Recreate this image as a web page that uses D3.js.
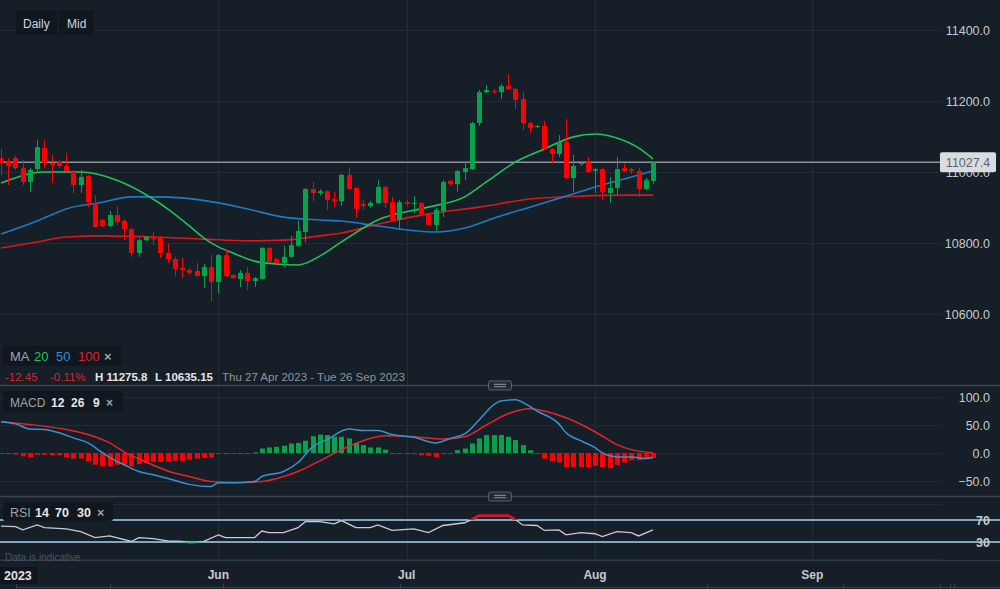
<!DOCTYPE html>
<html>
<head>
<meta charset="utf-8">
<script src="https://cdnjs.cloudflare.com/ajax/libs/d3/7.8.5/d3.min.js"></script>
<style>
html, body { margin: 0; padding: 0; background: #161e27; overflow: hidden; }
svg { display: block; font-family: "Liberation Sans", Arial, sans-serif; }
</style>
</head>
<body>
<svg id="chart" width="1000" height="589"></svg>
<script>
// daily candles, index 0 = first visible session (late Apr 2023)
var opens = [11039,11028,11039,11011,10972,11008,11068,11025,11031,11017,
  11000,10963,10989,10913,10865,10848,10879,10862,10839,10772,
  10808,10817,10817,10772,10755,10730,10724,10721,10707,10732,
  10690,10766,10710,10699,10716,10693,10699,10786,10755,10744,
  10761,10792,10831,10952,10941,10946,10924,10918,10992,10955,
  10910,10904,10913,10958,10915,10865,10915,10910,10913,10882,
  10851,10890,10975,10966,11000,11008,11138,11225,11228,11225,
  11242,11234,11206,11138,11127,11130,11065,11051,11084,10983,
  11023,11028,11003,11008,10941,10955,11011,11008,11003,10952,
  10975];
var highs = [11065,11039,11045,11034,11011,11090,11090,11048,11034,11054,
  11006,11006,10992,10935,10868,10890,10904,10868,10842,10814,
  10820,10831,10820,10800,10761,10758,10730,10744,10741,10766,
  10769,10780,10713,10724,10732,10704,10789,10789,10758,10792,
  10820,10862,10955,10972,10952,10949,10944,10994,11014,10958,
  10921,10918,10977,10961,10930,10921,10921,10932,10915,10885,
  10899,10977,10977,11006,11028,11141,11231,11245,11234,11248,
  11275.8,11237,11225,11141,11132,11144,11068,11104,11149,11048,
  11031,11042,11011,11011,10986,11042,11023,11011,11011,10983,
  11031];
var lows = [10992,10963,11006,10963,10944,11000,11011,10969,11011,11000,
  10941,10941,10901,10843,10845,10845,10851,10808,10761,10761,
  10806,10794,10758,10744,10707,10701,10710,10704,10673,10635.15,
  10659,10704,10699,10676,10668,10676,10696,10744,10741,10732,
  10758,10789,10803,10918,10935,10893,10901,10904,10949,10870,
  10893,10899,10910,10899,10862,10837,10904,10885,10876,10848,
  10834,10873,10961,10944,10977,11006,11130,11222,11220,11206,
  11231,11177,11118,11110,11124,11062,11023,11042,10980,10944,
  11017,10997,10941,10921,10913,10935,11000,10994,10930,10949,
  10966];
var closes = [11025,11017,11011,10972,11006,11070,11025,11020,11017,11003,
  10963,10986,10915,10845,10848,10879,10859,10839,10772,10808,
  10817,10811,10772,10755,10727,10724,10716,10707,10732,10690,
  10766,10707,10701,10716,10693,10701,10786,10747,10744,10761,
  10794,10834,10952,10941,10946,10921,10918,10992,10952,10896,
  10904,10913,10958,10913,10865,10915,10910,10913,10879,10851,
  10893,10972,10966,11003,11011,11138,11225,11231,11225,11242,
  11234,11203,11138,11124,11130,11065,11051,11084,10983,11017,
  11025,11000,11008,10944,10955,11008,11003,11003,10952,10977,
  11027.4];

// moving averages (candle index, value)
var ma20Idx = [0,6,11,16,21,23,26,28,30,32,35,38,41,44,47,52,59,64,67,71,75,79,82,85,88,90];
var ma20Val = [10969,11000,11000,10977,10924,10896,10848,10814,10789,10772,10749,10741,10738,10763,10803,10865,10901,10930,10972,11028,11065,11099,11107,11096,11068,11037];
var ma50Idx = [0,5,9,14,18,21,25,30,34,39,44,47,52,60,64,68,73,78,82,87,90];
var ma50Val = [10825,10862,10896,10915,10930,10930,10927,10913,10896,10873,10865,10862,10848,10831,10842,10870,10901,10932,10958,10986,11003];
var ma100Idx = [0,5,9,14,21,28,34,39,44,47,52,59,66,73,80,87,90];
var ma100Val = [10786,10803,10817,10820,10817,10811,10806,10808,10820,10828,10853,10882,10901,10924,10932,10935,10935];

// MACD 12 26 9
var macdIdx = [0,2,4,6,8,10,12,14,15,17,19,21,24,26,29,30,32,35,36,39,41,43,45,48,50,52,54,55,57,60,62,64,66,68,69,71,73,74,77,78,80,82,83,85,87,89,90];
var macdVal = [56,52,43,42,36,27,18,0.5,-8,-21,-33,-39,-49,-56,-60,-53,-53,-51,-42,-33,-17,11,24,43,40,40,33,31,28,18,26,34,59,86,93,95,83,75,52,36,22,9.5,0.5,-7,-7,-10,-8];
var signalIdx = [0,4,9,12,15,17,20,23,26,29,33,36,39,41,44,47,50,53,57,61,64,67,70,73,75,78,82,85,87,90];
var signalVal = [56,51,42,33,18,2,-16,-32,-42,-51,-53,-51,-42,-33,-14,6,22,31,29,25,29,50,70,79,75,63,38,15,6,0.5];
var histVal = [-1,-1,-3,-6,-8,-3,-3,-4,-4,-8,
  -10,-10,-15,-21,-24,-24,-21,-21,-24,-20,
  -18,-16,-16,-15,-14,-14,-12,-10,-9,-8,
  -2,-1,-1,-0.5,0,1,8,10,11,13,
  17,18,22,30,33,32,29,29,26,18,
  14,10,10,6,0,-1,-1,-2,-4,-5,
  -7,-2,0,5,8,17,26,32,32,32,
  29,23,14,5,-1,-10,-15,-17,-25,-25,
  -25,-25,-23,-25,-27,-21,-17,-13,-13,-11,
  -9];

// RSI 14
var rsiIdx = [0,2,3,5,6,9,11,13,15,18,19,21,23,25,26,27,28,30,31,33,35,36,37,39,41,42,44,46,47,49,51,52,54,57,59,61,64,65,66,68,70,71,72,74,75,77,78,80,82,83,85,87,88,90];
var rsiVal = [59,58,52,61,56,54,49,38,41,31,38,36,32,31,29,29.5,31,43,38,38,38,50,47,47,56,67,67,63,69,56,56,61,51,54,47,60,65,71,78,78,78,71,61,60,51,52,43,47,45,40,49,47,41,52];

// axis
var priceTicks = [10600, 10800, 11000, 11200, 11400];
var macdTicks = [-50, 0, 50, 100];
var rsiLevels = [70, 30];
var monthLabels = ["Jun", "Jul", "Aug", "Sep"];
var monthIdx = [30, 56, 82, 112];
var lastPrice = 11027.4;

var W = 1000, H = 589, plotRight = 942, axisRight = 990;
var bg = "#161e27", grid = "#222c37", sepCol = "#3d464f", axisText = "#c6cace";
var up = "#07a34c", down = "#ff0000";

var svg = d3.select("#chart");
svg.append("rect").attr("width", W).attr("height", H).attr("fill", bg);

var x = d3.scaleLinear().domain([0, 90]).range([1, 653]);
var yPrice = d3.scaleLinear().domain([10600, 11400]).range([314, 30]);
var yMacd = d3.scaleLinear().domain([-50, 100]).range([481, 397]);
var yRsi = d3.scaleLinear().domain([30, 70]).range([542, 520]);

// vertical month grid
svg.append("g").selectAll("line").data(monthIdx).enter().append("line")
  .attr("x1", function(d) { return Math.round(x(d)) + 0.5; })
  .attr("x2", function(d) { return Math.round(x(d)) + 0.5; })
  .attr("y1", 0).attr("y2", 560)
  .attr("stroke", grid).attr("stroke-width", 1);

// horizontal grids
function hgrid(vals, scale) {
  svg.append("g").selectAll("line").data(vals).enter().append("line")
    .attr("x1", 0).attr("x2", plotRight)
    .attr("y1", function(d) { return Math.round(scale(d)) + 0.5; })
    .attr("y2", function(d) { return Math.round(scale(d)) + 0.5; })
    .attr("stroke", grid).attr("stroke-width", 1);
}
hgrid(priceTicks, yPrice);
hgrid(macdTicks, yMacd);
hgrid([100, 0], yRsi);

// ---- price panel
svg.append("clipPath").attr("id", "clipPrice")
  .append("rect").attr("x", 0).attr("y", 0).attr("width", plotRight).attr("height", 384);
var gp = svg.append("g").attr("clip-path", "url(#clipPrice)");

// last price line
gp.append("line")
  .attr("x1", 0).attr("x2", plotRight)
  .attr("y1", yPrice(lastPrice)).attr("y2", yPrice(lastPrice))
  .attr("stroke", "#8e949a").attr("stroke-width", 1.5);

function maLine(idx, val, color) {
  var line = d3.line()
    .x(function(d) { return x(d[0]); })
    .y(function(d) { return yPrice(d[1]); })
    .curve(d3.curveMonotoneX);
  gp.append("path").datum(d3.zip(idx, val))
    .attr("d", line).attr("fill", "none")
    .attr("stroke", color).attr("stroke-width", 1.6);
}
maLine(ma100Idx, ma100Val, "#d9161d");
maLine(ma50Idx, ma50Val, "#1b7cc2");
maLine(ma20Idx, ma20Val, "#22c15c");

var candles = d3.range(opens.length).map(function(i) {
  return { i: i, o: opens[i], h: highs[i], l: lows[i], c: closes[i] };
});
var cg = gp.append("g").selectAll("g").data(candles).enter().append("g");
cg.append("line")
  .attr("x1", function(d) { return Math.round(x(d.i)) + 0.5; })
  .attr("x2", function(d) { return Math.round(x(d.i)) + 0.5; })
  .attr("y1", function(d) { return yPrice(d.h); })
  .attr("y2", function(d) { return yPrice(d.l); })
  .attr("stroke", function(d) { return d.c >= d.o ? up : down; })
  .attr("stroke-width", 1);
cg.append("rect")
  .attr("x", function(d) { return Math.round(x(d.i)) - 2; })
  .attr("width", 5)
  .attr("y", function(d) { return yPrice(Math.max(d.o, d.c)); })
  .attr("height", function(d) { return Math.max(1, Math.abs(yPrice(d.o) - yPrice(d.c))); })
  .attr("fill", function(d) { return d.c >= d.o ? up : down; });

// price axis
var pa = svg.append("g").attr("transform", "translate(" + plotRight + ",0)")
  .call(d3.axisRight(yPrice).tickValues(priceTicks).tickSize(0).tickFormat(d3.format(".1f")));
pa.select(".domain").remove();
pa.selectAll("text").attr("x", axisRight - plotRight).attr("text-anchor", "end")
  .attr("fill", axisText).style("font-size", "12.5px");

// last price tag
svg.append("rect").attr("x", 940).attr("y", yPrice(lastPrice) - 10)
  .attr("width", 56).attr("height", 20).attr("rx", 2).attr("fill", "#d9dde1");
svg.append("text").attr("x", 968).attr("y", yPrice(lastPrice) + 4.5)
  .attr("text-anchor", "middle").attr("fill", "#5d636a")
  .style("font-size", "12.5px").text(d3.format(".1f")(lastPrice));

// ---- MACD panel
var gm = svg.append("g");
gm.selectAll("rect").data(histVal).enter().append("rect")
  .attr("x", function(d, i) { return Math.round(x(i)) - 2; })
  .attr("width", 5)
  .attr("y", function(d) { return d >= 0 ? yMacd(d) : yMacd(0); })
  .attr("height", function(d) { return Math.max(1, Math.abs(yMacd(d) - yMacd(0))); })
  .attr("fill", function(d) { return d > 0 ? up : down; });

function macdLine(idx, val, color) {
  var line = d3.line()
    .x(function(d) { return x(d[0]); })
    .y(function(d) { return yMacd(d[1]); })
    .curve(d3.curveMonotoneX);
  gm.append("path").datum(d3.zip(idx, val))
    .attr("d", line).attr("fill", "none")
    .attr("stroke", color).attr("stroke-width", 1.5);
}
macdLine(signalIdx, signalVal, "#e3242b");
macdLine(macdIdx, macdVal, "#3a91cf");

var ma = svg.append("g").attr("transform", "translate(" + plotRight + ",0)")
  .call(d3.axisRight(yMacd).tickValues(macdTicks.slice().reverse()).tickSize(0).tickFormat(d3.format(".1f")));
ma.select(".domain").remove();
ma.selectAll("text").attr("x", axisRight - plotRight).attr("text-anchor", "end")
  .attr("fill", axisText).style("font-size", "12.5px");

// ---- RSI panel
svg.append("g").selectAll("line").data(rsiLevels).enter().append("line")
  .attr("x1", 0).attr("x2", W)
  .attr("y1", function(d) { return yRsi(d); }).attr("y2", function(d) { return yRsi(d); })
  .attr("stroke", "#7ea7c7").attr("stroke-width", 1.8);

var rsiLine = d3.line()
  .x(function(d) { return x(d[0]); })
  .y(function(d) { return yRsi(d[1]); });
var rsiPts = d3.zip(rsiIdx, rsiVal);
svg.append("clipPath").attr("id", "clipHi")
  .append("rect").attr("x", 0).attr("y", 490).attr("width", plotRight).attr("height", yRsi(70) - 490);
svg.append("clipPath").attr("id", "clipLo")
  .append("rect").attr("x", 0).attr("y", yRsi(30) + 0.3).attr("width", plotRight).attr("height", 20);
svg.append("path").datum(rsiPts).attr("d", rsiLine).attr("fill", "none")
  .attr("stroke", "#c9ccd0").attr("stroke-width", 1.3);
svg.append("path").datum(rsiPts).attr("d", rsiLine).attr("fill", "none")
  .attr("clip-path", "url(#clipHi)").attr("stroke", "#e0141c").attr("stroke-width", 2.5);
svg.append("path").datum(rsiPts).attr("d", rsiLine).attr("fill", "none")
  .attr("clip-path", "url(#clipLo)").attr("stroke", up).attr("stroke-width", 1.8);

svg.append("g").selectAll("text").data(rsiLevels).enter().append("text")
  .attr("x", axisRight).attr("y", function(d) { return yRsi(d) + 4.5; })
  .attr("text-anchor", "end").attr("fill", axisText)
  .style("font-size", "12.5px").style("font-weight", "bold")
  .text(function(d) { return d; });

// ---- separators
function separator(y) {
  svg.append("line").attr("x1", 0).attr("x2", W).attr("y1", y).attr("y2", y)
    .attr("stroke", sepCol).attr("stroke-width", 1.5);
  svg.append("rect").attr("x", 488.5).attr("y", y - 4.5).attr("width", 23).attr("height", 9)
    .attr("rx", 1.5).attr("fill", "#232b34").attr("stroke", "#59616a");
  [-1, 1].forEach(function(k) {
    svg.append("line").attr("x1", 494).attr("x2", 506)
      .attr("y1", y + k * 1.2).attr("y2", y + k * 1.2)
      .attr("stroke", "#8e969d").attr("stroke-width", 1);
  });
}
separator(385.5);
separator(496.5);
svg.append("line").attr("x1", 0).attr("x2", W).attr("y1", 560.5).attr("y2", 560.5)
  .attr("stroke", "#333c46").attr("stroke-width", 1);

// ---- x axis
svg.append("g").selectAll("text").data(monthLabels).enter().append("text")
  .attr("x", function(d, i) { return x(monthIdx[i]); })
  .attr("y", 579).attr("text-anchor", "middle")
  .attr("fill", axisText).style("font-size", "12px").style("font-weight", "bold")
  .text(function(d) { return d; });
svg.append("rect").attr("x", 0).attr("y", 567).attr("width", 38).attr("height", 17)
  .attr("fill", "#10161c");
svg.append("text").attr("x", 4).attr("y", 580)
  .attr("fill", "#dfe2e5").style("font-size", "12.5px").style("font-weight", "bold").text("2023");

svg.append("line").attr("x1", 16).attr("x2", W).attr("y1", 587.5).attr("y2", 587.5)
  .attr("stroke", "#39424b");
svg.append("g").selectAll("line").data([16, 110, 223, 400, 707, 843, 940, 950, 954]).enter().append("line")
  .attr("x1", function(d) { return d + 0.5; }).attr("x2", function(d) { return d + 0.5; })
  .attr("y1", 584).attr("y2", 589).attr("stroke", "#39424b");

svg.append("text").attr("x", 5).attr("y", 561)
  .attr("fill", "#4c5662").style("font-size", "10px").text("Data is indicative");

// ---- legends and buttons
function box(x0, y0, w, h) {
  svg.append("rect").attr("x", x0).attr("y", y0).attr("width", w).attr("height", h)
    .attr("rx", 2).attr("fill", "#10171e");
}
function label(parts, y, size) {
  parts.forEach(function(p) {
    svg.append("text").attr("x", p[0]).attr("y", y).attr("fill", p[2])
      .style("font-size", size).style("font-weight", p[3] ? "bold" : "normal")
      .text(p[1]);
  });
}

box(16, 10, 41, 25);
box(59, 10, 35, 25);
label([[23, "Daily", "#d3d6da"], [67, "Mid", "#d3d6da"]], 27.5, "12px");

box(3, 345, 118, 21);
label([[10, "MA", "#9ea3a8"], [34, "20", "#1ec85c"], [56, "50", "#2a8fd8"],
       [78, "100", "#e02020"], [104, "\u00d7", "#9ea3a8", true]], 360.5, "13px");
label([[5, "-12.45", "#d6262c"], [50, "-0.11%", "#d6262c"],
       [95, "H 11275.8", "#e4e6e8", true], [155, "L 10635.15", "#e4e6e8", true],
       [222, "Thu 27 Apr 2023 - Tue 26 Sep 2023", "#8f959b"]], 380.5, "11.5px");

box(3, 391, 120, 21);
label([[10, "MACD", "#9ea3a8"], [51, "12", "#e4e6e8", true], [71, "26", "#e4e6e8", true],
       [93, "9", "#e4e6e8", true], [106, "\u00d7", "#9ea3a8", true]], 406.5, "12px");

box(3, 502, 110, 19);
label([[10, "RSI", "#9ea3a8"], [35, "14", "#e4e6e8", true], [55, "70", "#e4e6e8", true],
       [77, "30", "#e4e6e8", true], [97, "\u00d7", "#9ea3a8", true]], 516.5, "12.5px");
</script>
</body>
</html>
